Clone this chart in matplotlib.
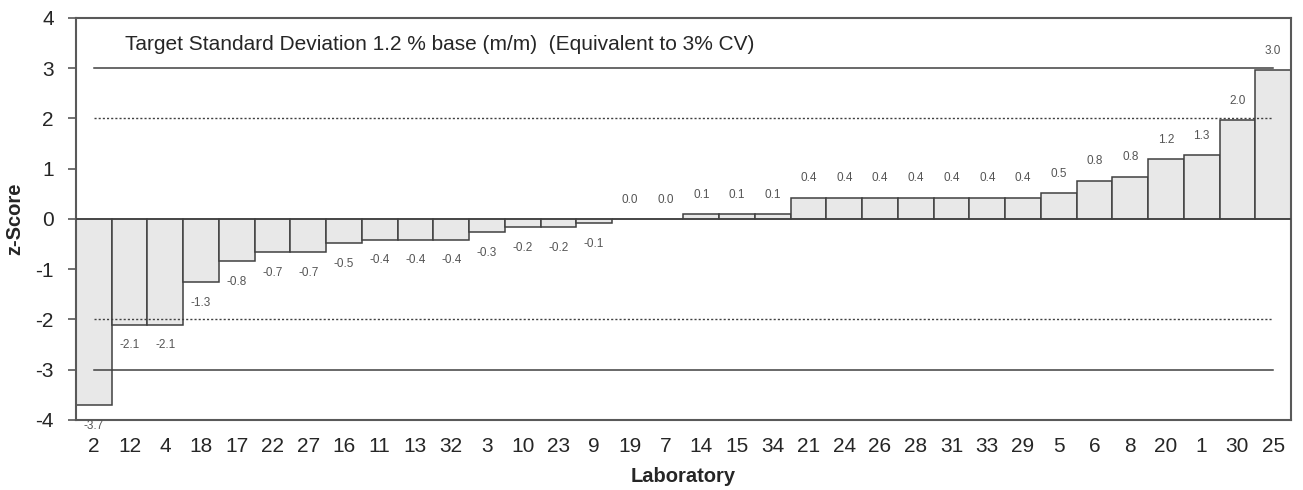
import numpy as np
import matplotlib
matplotlib.use("Agg")
import matplotlib.pyplot as plt

plt.rcParams['font.family'] = ['Liberation Sans', 'DejaVu Sans']
plt.rcParams['axes.unicode_minus'] = False

## laboratories sorted by z-score
labs = ["2", "12", "4", "18", "17", "22", "27", "16", "11", "13", "32", "3", "10", "23", "9",
        "19", "7", "14", "15", "34", "21", "24", "26", "28", "31", "33", "29", "5", "6", "8",
        "20", "1", "30", "25"]
zscores = [-3.70, -2.10, -2.10, -1.26, -0.84, -0.66, -0.66, -0.48, -0.41, -0.41, -0.41,
           -0.26, -0.16, -0.16, -0.08, 0.0, 0.0, 0.10, 0.10, 0.10, 0.42, 0.42, 0.42, 0.42,
           0.42, 0.42, 0.42, 0.51, 0.76, 0.84, 1.19, 1.27, 1.96, 2.96]
limits_action = [3, -3]
limits_warning = [2, -2]
y_ticks = [-4, -3, -2, -1, 0, 1, 2, 3, 4]
note = "Target Standard Deviation 1.2 % base (m/m)  (Equivalent to 3% CV)"

dark = "#404040"
x = np.arange(len(labs))

fig = plt.figure(figsize=(13.03, 4.90), dpi=100)
ax = fig.add_axes([0.0583, 0.1429, 0.9325, 0.8204])

ax.bar(x, zscores, width=1.0, color="#e8e8e8", edgecolor=dark, linewidth=1.1, zorder=2)
ax.axhline(0, color=dark, linewidth=1.1, zorder=3)

for v in limits_action:
    ax.plot([x[0], x[-1]], [v, v], color=dark, linewidth=1.1, zorder=4)
for v in limits_warning:
    ax.plot([x[0], x[-1]], [v, v], color=dark, linewidth=1.0, linestyle=(0, (1.5, 1.5)), zorder=4)

# value labels above / below each bar
for xi, v in zip(x, zscores):
    if v < 0:
        ax.annotate(f"{v:.1f}", (xi, v), xytext=(0, -15), textcoords="offset points",
                    ha="center", va="center", fontsize=8.5, color="#555555", zorder=5)
    else:
        ax.annotate(f"{v:.1f}", (xi, v), xytext=(0, 14), textcoords="offset points",
                    ha="center", va="center", fontsize=8.5, color="#555555", zorder=5)

ax.text(0.040, 0.935, note, transform=ax.transAxes, fontsize=15, color="#262626",
        ha="left", va="center")

ax.set_xlim(-0.5, len(labs) - 0.5)
ax.set_ylim(-4, 4)
ax.set_yticks(y_ticks)
ax.set_yticklabels([str(t) for t in y_ticks], fontsize=15, color="#262626")
ax.set_xticks(x)
ax.set_xticklabels(labs, fontsize=15, color="#262626")
ax.tick_params(axis="x", length=0, pad=12)
ax.tick_params(axis="y", length=6, width=1.2, color="#595959", pad=10)

for s in ax.spines.values():
    s.set_color("#595959")
    s.set_linewidth(1.5)

ax.set_ylabel("z-Score", fontsize=14.5, fontweight="bold", color="#262626", labelpad=8)
ax.set_xlabel("Laboratory", fontsize=14.5, fontweight="bold", color="#262626", labelpad=8)

fig.savefig("out.png", dpi=100)
